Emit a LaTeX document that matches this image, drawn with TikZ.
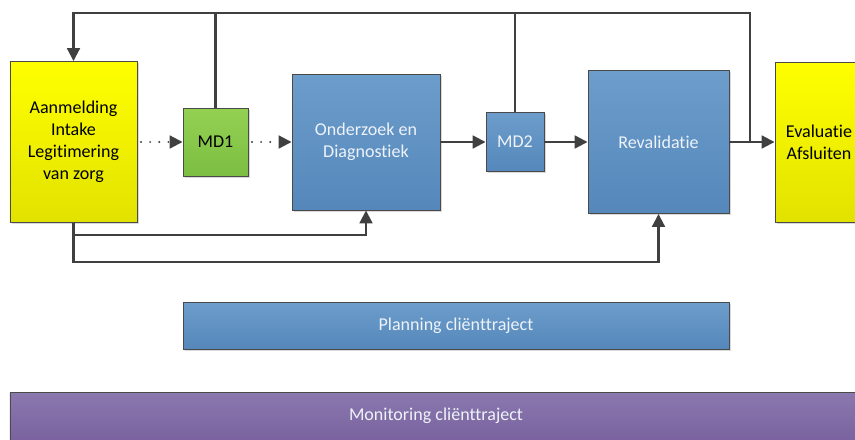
\documentclass[tikz,border=0pt]{standalone}
\usepackage{fontspec}
\setmainfont{Carlito}[Ligatures=NoCommon]
\usetikzlibrary{arrows.meta,shadows}
\definecolor{ylwtop}{HTML}{FFFF00}
\definecolor{ylwbot}{HTML}{E2E200}
\definecolor{grntop}{HTML}{94D152}
\definecolor{grnbot}{HTML}{7BBE42}
\definecolor{blutop}{HTML}{6C9DCB}
\definecolor{blubot}{HTML}{5587BB}
\definecolor{prptop}{HTML}{8B78AE}
\definecolor{prpbot}{HTML}{7A63A0}
\definecolor{boxline}{HTML}{4A4A4A}
\definecolor{lncol}{HTML}{404040}
\definecolor{lighttext}{HTML}{EEF3F9}

\begin{document}
\begin{tikzpicture}[x=0.3mm,y=-0.3mm,
  box/.style={draw=boxline, line width=0.8pt, inner sep=0pt, align=center,
    font=\fontsize{15.4}{18.8}\selectfont,
    drop shadow={shadow xshift=1.5pt, shadow yshift=-1.5pt, opacity=0.25, fill=black!60}},
  ylwbox/.style={box, top color=ylwtop, bottom color=ylwbot, text=black},
  grnbox/.style={box, top color=grntop, bottom color=grnbot, text=black},
  blubox/.style={box, top color=blutop, bottom color=blubot, text=lighttext},
  prpbox/.style={box, top color=prptop, bottom color=prpbot, text=lighttext},
  line/.style={draw=lncol, line width=1.8pt},
  arr/.style={line, -{Triangle[length=11pt,width=11pt]}},
  dots/.style={arr, dash pattern=on 0pt off 7.8pt, dash phase=-3pt, line cap=round}]
\clip (0,0) rectangle (855,439);
\node[ylwbox, minimum width=38.1mm, minimum height=48.3mm](intake) at (73.5,142)
  {Aanmelding\\Intake\\Legitimering\\van zorg};
\node[grnbox, minimum width=19.5mm, minimum height=20.4mm](md1) at (215.5,142){MD1};
\node[blubox, minimum width=44.4mm, minimum height=40.8mm](onderzoek) at (366,142)
  {Onderzoek en\\Diagnostiek};
\node[blubox, minimum width=17.4mm, minimum height=17.7mm](md2) at (515,142){MD2};
\node[blubox, minimum width=42.3mm, minimum height=42.9mm](reval) at (658.5,142){Revalidatie};
\node[ylwbox, minimum width=26.4mm, minimum height=48mm](eval) at (819,142)
  {Evaluatie\\Afsluiten};
\node[blubox, minimum width=163.8mm, minimum height=14.1mm](planning) at (456,325.5)
  {Planning cliënttraject};
\node[prpbox, minimum width=255.6mm, minimum height=14.4mm](monitoring) at (436,416)
  {Monitoring cliënttraject};
% feedback lines
\coordinate (split) at (750,142);
\coordinate (top) at (750,13);
\coordinate (low1) at (73.5,235);
\coordinate (low2) at (73.5,262);
\foreach \from/\to in {intake/md1,md1/onderzoek}
  \draw[dots] (\from.east) -- (\to.west);
\foreach \from/\to in {onderzoek/md2,md2/reval,reval/eval}
  \draw[arr] (\from.east) -- (\to.west);
\draw[arr] (split) -- (top) -| (intake.north);
\draw[line] (md1.north) -- (md1.north |- top);
\draw[line] (md2.north) -- (md2.north |- top);
\draw[arr] (intake.south) -- (low1) -| (onderzoek.south);
\draw[arr] (low1) -- (low2) -| (reval.south);
\end{tikzpicture}
\end{document}
